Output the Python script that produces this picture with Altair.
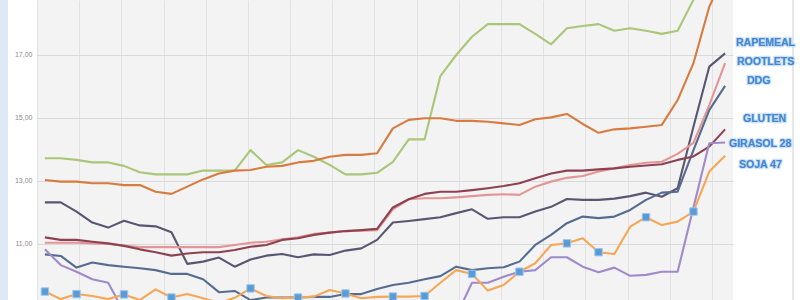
import altair as alt
import pandas as pd

# ---------------- data ----------------
n_points = 44
idx = list(range(n_points))

s_green = [13.72, 13.72, 13.67, 13.59, 13.59, 13.48, 13.28, 13.21, 13.21, 13.21,
           13.33, 13.33, 13.33, 13.98, 13.51, 13.59, 13.98, 13.77, 13.51, 13.21,
           13.21, 13.26, 13.61, 14.32, 14.32, 16.33, 17.00, 17.58, 17.98, 17.98,
           17.98, 17.67, 17.34, 17.85, 17.92, 17.98, 17.77, 17.85, 17.77, 17.67,
           17.77, 18.75, 19.40, 19.80]
s_orange = [13.03, 12.98, 12.98, 12.93, 12.93, 12.87, 12.87, 12.66, 12.59, 12.82,
            13.05, 13.24, 13.33, 13.35, 13.45, 13.48, 13.59, 13.64, 13.77, 13.83,
            13.83, 13.88, 14.67, 14.94, 14.99, 14.99, 14.91, 14.91, 14.88, 14.83,
            14.78, 14.96, 15.02, 15.13, 14.81, 14.53, 14.64, 14.67, 14.72, 14.78,
            15.57, 16.74, 18.53, 19.60]
rapemeal = [12.32, 12.32, 12.03, 11.68, 11.52, 11.74, 11.59, 11.56, 11.37, 10.37,
            10.44, 10.57, 10.28, 10.51, 10.63, 10.68, 10.58, 10.67, 10.65, 10.79,
            10.86, 11.13, 11.68, 11.73, 11.79, 11.85, 11.98, 12.10, 11.80, 11.85,
            11.85, 12.03, 12.18, 12.43, 12.40, 12.40, 12.44, 12.52, 12.63, 12.50,
            12.77, 14.72, 16.63, 17.05]
rootlets = [11.04, 11.04, 11.04, 11.02, 11.00, 10.95, 10.90, 10.90, 10.90, 10.90,
            10.90, 10.90, 10.97, 11.04, 11.07, 11.15, 11.21, 11.32, 11.36, 11.41,
            11.42, 11.44, 12.10, 12.42, 12.45, 12.45, 12.48, 12.52, 12.56, 12.58,
            12.56, 12.82, 12.98, 13.10, 13.16, 13.30, 13.40, 13.51, 13.58, 13.61,
            13.86, 14.21, 15.41, 16.74]
ddg = [10.67, 10.62, 10.25, 10.41, 10.33, 10.28, 10.23, 10.17, 10.05, 10.05,
       9.88, 9.47, 9.51, 9.22, 9.30, 9.30, 9.30, 9.32, 9.32, 9.41,
       9.41, 9.57, 9.70, 9.77, 9.88, 9.98, 10.28, 10.17, 10.23, 10.26,
       10.44, 10.97, 11.29, 11.66, 11.87, 11.82, 11.87, 12.08, 12.40, 12.63,
       12.66, 13.98, 15.25, 16.02]
gluten = [11.21, 11.13, 11.13, 11.07, 11.02, 10.94, 10.83, 10.74, 10.63, 10.70,
          10.74, 10.74, 10.81, 10.91, 10.97, 11.13, 11.18, 11.29, 11.36, 11.41,
          11.44, 11.48, 12.16, 12.42, 12.59, 12.66, 12.66, 12.71, 12.77, 12.84,
          12.93, 13.09, 13.24, 13.33, 13.33, 13.37, 13.40, 13.45, 13.49, 13.53,
          13.67, 13.78, 14.09, 14.64]
girasol = ([10.83, 10.33, 10.12, 9.88, 9.77, 8.84] + [None] * 20 +
           [8.71, 9.77, 9.77, 9.96, 10.12, 10.17, 10.58, 10.58, 10.28, 10.10,
            10.25, 9.99, 10.02, 10.12, 10.12, 12.16, 14.20, 14.22])
soja = [9.49, 9.25, 9.41, 9.35, 9.25, 9.40, 9.22, 9.56, 9.30, 9.41,
        9.28, 9.13, 9.29, 9.59, 9.35, 9.28, 9.30, 9.33, 9.54, 9.43,
        9.28, 9.32, 9.33, 9.33, 9.35, 9.77, 10.17, 10.05, 9.52, 9.70,
        10.12, 10.39, 10.97, 11.02, 11.18, 10.74, 10.68, 11.55, 11.85, 11.60,
        11.71, 12.03, 13.30, 13.80]
soja_marker_idx = [0, 2, 5, 8, 13, 16, 19, 22, 24, 27, 30, 33, 35, 38, 41]

series_names = ["S1", "S2", "RAPEMEAL", "ROOTLETS", "DDG", "GLUTEN", "GIRASOL 28", "SOJA 47"]
series_values = [s_green, s_orange, rapemeal, rootlets, ddg, gluten, girasol, soja]
series_colors = ["#a9c679", "#d77b3e", "#595671", "#e49697", "#556c90", "#8e4150", "#a08acb", "#f6a655"]

label_texts = ["RAPEMEAL", "ROOTLETS", "DDG", "GLUTEN", "GIRASOL 28", "SOJA 47"]
y_ticks = [9, 11, 13, 15, 17, 19]

# ---------------- layout constants ----------------
PLOT_W, PLOT_H = 696, 300
PAD_L, PAD_R = 37, 67
Y_MIN, Y_MAX = 9.222, 18.746
label_pos = [(699, 42.5), (700, 61.5), (710, 81), (706, 118.5), (692, 143.5), (702, 165)]
grid_x = [-0.5 + j / 3 for j in range(3 * n_points + 1)]

rows = []
for name, vals in zip(series_names, series_values):
    for i, v in zip(idx, vals):
        if v is not None:
            rows.append({"i": i, "serie": name, "v": v})
df = pd.DataFrame(rows)
df_mk = pd.DataFrame({"i": soja_marker_idx, "v": [soja[k] for k in soja_marker_idx]})

x_scale = alt.Scale(domain=[-0.5, n_points - 0.5], nice=False, zero=False)
y_scale = alt.Scale(domain=[Y_MIN, Y_MAX], nice=False, zero=False)

lines = alt.Chart(df).mark_line(strokeWidth=2.1, clip=True, strokeJoin="round").encode(
    x=alt.X("i:Q", scale=x_scale,
            axis=alt.Axis(values=grid_x, labels=False, ticks=False, domain=False,
                          grid=True, gridColor="#e2e2e2", gridWidth=1, title=None)),
    y=alt.Y("v:Q", scale=y_scale,
            axis=alt.Axis(values=y_ticks, ticks=False, domain=False, grid=True,
                          gridColor="#d9d9d9", gridWidth=1, title=None,
                          labelFontSize=7, labelColor="#8a8a8a", labelPadding=5,
                          labelFont="Liberation Sans",
                          labelExpr="replace(format(datum.value, '.2f'), '.', ',')")),
    color=alt.Color("serie:N", scale=alt.Scale(domain=series_names, range=series_colors), legend=None),
    order=alt.Order("i:Q"),
)

markers = alt.Chart(df_mk).mark_point(shape="square", filled=True, size=55, opacity=1,
                                      color="#5b9bd5", stroke="#9cc6ee", strokeWidth=1,
                                      clip=True).encode(
    x=alt.X("i:Q", scale=x_scale),
    y=alt.Y("v:Q", scale=y_scale),
)

one = pd.DataFrame({"a": [0]})
left_strip = alt.Chart(one).mark_rect(color="#dfe9f6", clip=False).encode(
    x=alt.value(-PAD_L), x2=alt.value(-PAD_L + 8), y=alt.value(0), y2=alt.value(PLOT_H))
right_border = alt.Chart(one).mark_rule(color="#cfcfcf", strokeWidth=1, clip=False).encode(
    x=alt.value(756), y=alt.value(0), y2=alt.value(PLOT_H))

layers = [left_strip, right_border, lines, markers]
for txt, (px, py) in zip(label_texts, label_pos):
    glow = alt.Chart(one).mark_text(text=txt, align="left", baseline="middle",
                                    font="Liberation Sans", fontWeight="bold", fontSize=10.5,
                                    fill="#4287d3", stroke="#b9d4f2", strokeWidth=2.4,
                                    strokeOpacity=0.7, clip=False).encode(
        x=alt.value(px), y=alt.value(py))
    front = alt.Chart(one).mark_text(text=txt, align="left", baseline="middle",
                                     font="Liberation Sans", fontWeight="bold", fontSize=10.5,
                                     color="#4287d3", clip=False).encode(
        x=alt.value(px), y=alt.value(py))
    layers += [glow, front]

chart = alt.layer(*layers).properties(
    width=PLOT_W, height=PLOT_H,
    padding={"left": PAD_L, "right": PAD_R, "top": 0, "bottom": 0},
    autosize=alt.AutoSizeParams(type="none"),
    background="#ffffff",
).configure_view(stroke=None, fill="#f3f3f3")

chart.save("out.html", embed_options={"renderer": "svg", "actions": False})
